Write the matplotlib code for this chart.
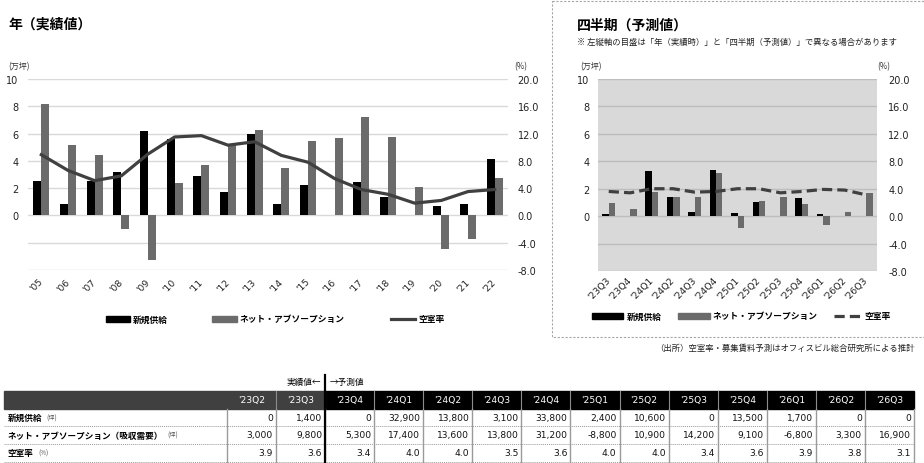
import numpy as np
import matplotlib
matplotlib.use("Agg")
import matplotlib.pyplot as plt
from matplotlib.patches import Rectangle
from matplotlib.lines import Line2D
from matplotlib.ticker import FuncFormatter

plt.rcParams['font.family'] = ['Noto Sans CJK JP', 'DejaVu Sans']

# ---------------- data ----------------
years = ["'05", "'06", "'07", "'08", "'09", "'10", "'11", "'12", "'13",
         "'14", "'15", "'16", "'17", "'18", "'19", "'20", "'21", "'22"]
annual_supply = [2.56, 0.86, 2.56, 3.19, 6.22, 5.6, 2.92, 1.74, 5.95,
                 0.81, 2.26, 0.0, 2.43, 1.38, 0.05, 0.71, 0.86, 4.13]      # 万坪
annual_absorption = [8.2, 5.18, 4.42, -1.03, -3.24, 2.41, 3.71, 5.14, 6.24,
                     3.44, 5.43, 5.68, 7.22, 5.75, 2.06, -2.48, -1.70, 2.78]  # 万坪
annual_vacancy = [8.9, 6.6, 5.1, 5.8, 9.0, 11.5, 11.7, 10.3, 10.8,
                  8.8, 7.8, 5.4, 3.8, 3.1, 1.8, 2.2, 3.5, 3.8]                # %

quarters = ["'23Q2", "'23Q3", "'23Q4", "'24Q1", "'24Q2", "'24Q3", "'24Q4",
            "'25Q1", "'25Q2", "'25Q3", "'25Q4", "'26Q1", "'26Q2", "'26Q3"]
q_supply = [0, 1400, 0, 32900, 13800, 3100, 33800, 2400, 10600, 0, 13500, 1700, 0, 0]          # 坪
q_absorption = [3000, 9800, 5300, 17400, 13600, 13800, 31200, -8800, 10900, 14200, 9100,
                -6800, 3300, 16900]                                                          # 坪
q_vacancy = [3.9, 3.6, 3.4, 4.0, 4.0, 3.5, 3.6, 4.0, 4.0, 3.4, 3.6, 3.9, 3.8, 3.1]           # %
n_actual = 2  # '23Q2, '23Q3 are actual values

legend_labels = ["新規供給", "ネット・アブソープション", "空室率"]
row_labels = ["新規供給", "ネット・アブソープション（吸収需要）", "空室率"]
row_units = ["(坪)", "(坪)", "(%)"]

# ---------------- figure ----------------
W, H = 924, 464
fig = plt.figure(figsize=(W / 100, H / 100), dpi=100)


def px_axes(x0, y0, x1, y1):
    return fig.add_axes([x0 / W, 1 - y1 / H, (x1 - x0) / W, (y1 - y0) / H])


ov = px_axes(0, 0, W, H)
ov.set_xlim(0, W)
ov.set_ylim(H, 0)
ov.axis('off')

BLACK = '#000000'
GRAY = '#6b6b6b'
LINEC = '#404040'
NUMFONT = 'DejaVu Sans'


def draw_chart(ax, labels, supply, absorption, vacancy, dashed, gridc, lpad, rpad, xpad):
    n = len(labels)
    x = np.arange(n)
    ax.bar(x - 0.15, supply, 0.3, color=BLACK, zorder=3)
    ax.bar(x + 0.15, absorption, 0.3, color=GRAY, zorder=3)
    ax.set_xlim(-0.5, n - 0.5)
    ax.set_ylim(-4, 10)
    ax.set_yticks(np.arange(-4, 11, 2))
    ax.yaxis.set_major_formatter(FuncFormatter(lambda v, _: f"{v:.0f}" if v >= 0 else ""))
    ax.grid(axis='y', color=gridc, lw=1)
    ax.set_axisbelow(True)
    for s in ax.spines.values():
        s.set_visible(False)
    ax.tick_params(axis='y', length=0, labelsize=7, pad=lpad, labelfontfamily=NUMFONT,
                   labelcolor='#222222')
    ax.set_xticks(x)
    ax.set_xticklabels(labels, rotation=45, ha='right', va='center', rotation_mode='anchor')
    ax.tick_params(axis='x', length=0, labelsize=6.7, pad=xpad, labelfontfamily=NUMFONT,
                   labelcolor='#222222')
    axr = ax.twinx()
    axr.set_ylim(-8, 20)
    axr.set_yticks(np.arange(-8, 21, 4))
    axr.yaxis.set_major_formatter(FuncFormatter(lambda v, _: f"{v:.1f}"))
    axr.tick_params(axis='y', length=0, labelsize=7, pad=rpad, labelfontfamily=NUMFONT,
                    labelcolor='#222222')
    for s in axr.spines.values():
        s.set_visible(False)
    if dashed:
        axr.plot(x, vacancy, color=LINEC, lw=2.3, ls=(0, (3.2, 1.6)), zorder=5)
    else:
        axr.plot(x, vacancy, color=LINEC, lw=2.3, zorder=5)
    return axr


# annual chart
ax1 = px_axes(28, 80, 508, 271)
draw_chart(ax1, years, annual_supply, annual_absorption, annual_vacancy, False,
           '#d9d9d9', 7, 7, 7)

# quarterly chart
ax2 = px_axes(598, 80, 877, 272)
ax2.set_facecolor('#d9d9d9')
draw_chart(ax2, quarters[1:], [v / 10000 for v in q_supply[1:]],
           [v / 10000 for v in q_absorption[1:]], q_vacancy[1:], True, '#bdbdbd', 6, 8, 5)

# ---------------- texts & legends ----------------
ov.text(8, 25, "年（実績値）", fontsize=10, fontweight='bold', va='center', ha='left')
ov.text(8, 67, "(万坪)", fontsize=5.8, va='center', ha='left', color='#333333')
ov.text(514, 67, "(%)", fontsize=5.8, va='center', ha='left', color='#333333')

ov.add_patch(Rectangle((552, 2), 380, 336, fill=False, ec='#a6a6a6', lw=0.8, ls=(0, (2, 1.5))))
ov.text(577, 26, "四半期（予測値）", fontsize=10, fontweight='bold', va='center', ha='left')
ov.text(577, 42, "※ 左縦軸の目盛は「年（実績時）」と「四半期（予測値）」で異なる場合があります",
        fontsize=6.0, va='center', ha='left', color='#222222')
ov.text(580, 67, "(万坪)", fontsize=5.8, va='center', ha='left', color='#333333')
ov.text(877, 67, "(%)", fontsize=5.8, va='center', ha='left', color='#333333')


def legend_row(y, items):
    for kind, x0, x1, tx, label in items:
        if kind == 'black':
            ov.add_patch(Rectangle((x0, y - 3), x1 - x0, 6, color=BLACK))
        elif kind == 'gray':
            ov.add_patch(Rectangle((x0, y - 3), x1 - x0, 6, color=GRAY))
        elif kind == 'line':
            ov.add_line(Line2D([x0, x1], [y, y], color=LINEC, lw=2.3))
        else:
            ov.add_line(Line2D([x0, x1], [y, y], color=LINEC, lw=2.3, ls=(0, (3.2, 1.6))))
        ov.text(tx, y, label, fontsize=6.3, fontweight='bold', va='center', ha='left')


legend_row(320, [('black', 106, 130, 133, legend_labels[0]),
                 ('gray', 212, 237, 240, legend_labels[1]),
                 ('line', 391, 415, 418, legend_labels[2])])
legend_row(317, [('black', 592, 623, 627, legend_labels[0]),
                 ('gray', 678, 710, 713, legend_labels[1]),
                 ('dash', 834, 860, 864, legend_labels[2])])

ov.text(915, 348, "（出所）空室率・募集賃料予測はオフィスビル総合研究所による推計",
        fontsize=6.0, va='center', ha='right', color='#222222')

# ---------------- table ----------------
col_left = 227
col_w = 49.07
tbl_left = 4
ncol = len(quarters)
tbl_right = col_left + ncol * col_w
head_top, head_bot = 392, 410
row_edges = [410, 427, 445, 463]
split_x = col_left + n_actual * col_w

ov.text(split_x - 4, 382, "実績値←", fontsize=6.2, va='center', ha='right')
ov.text(split_x + 5, 382, "→予測値", fontsize=6.2, va='center', ha='left')

ov.add_patch(Rectangle((tbl_left, head_top), split_x - tbl_left, head_bot - head_top, color='#404040'))
ov.add_patch(Rectangle((split_x, head_top), tbl_right - split_x, head_bot - head_top, color='black'))
for k in range(1, ncol):
    xk = col_left + k * col_w
    ov.add_line(Line2D([xk, xk], [head_top, head_bot], color='#8c8c8c', lw=0.8))
for k in range(0, ncol + 1):
    xk = col_left + k * col_w
    ov.add_line(Line2D([xk, xk], [head_bot, row_edges[-1]], color='#9a9a9a', lw=1.0))
for yk in row_edges[1:]:
    ov.add_line(Line2D([tbl_left, tbl_right], [yk, yk], color='#9a9a9a', lw=0.7, ls=(0, (1, 1))))
ov.add_line(Line2D([split_x, split_x], [376, row_edges[-1]], color='black', lw=1.6))

for i, q in enumerate(quarters):
    cx = col_left + (i + 0.5) * col_w
    ov.text(cx, (head_top + head_bot) / 2, q, color='white', ha='center', va='center',
            fontsize=6.6, family=NUMFONT)

row_values = [[f"{v:,}" for v in q_supply],
              [f"{v:,}" for v in q_absorption],
              [f"{v:.1f}" for v in q_vacancy]]
for r, vals in enumerate(row_values):
    cy = (row_edges[r] + row_edges[r + 1]) / 2
    lab = ov.text(8, cy, row_labels[r], fontsize=6.2, fontweight='bold', va='center', ha='left')
    ov.annotate(row_units[r], xy=(1, 0.5), xycoords=lab, xytext=(3, 0), textcoords='offset points',
                fontsize=4.5, va='center', ha='left', color='#555555')
    for i, s in enumerate(vals):
        xr = col_left + (i + 1) * col_w - 3
        ov.text(xr, cy, s, ha='right', va='center', fontsize=6.6, family=NUMFONT, color='#111111')

fig.savefig("out.png", dpi=100)
